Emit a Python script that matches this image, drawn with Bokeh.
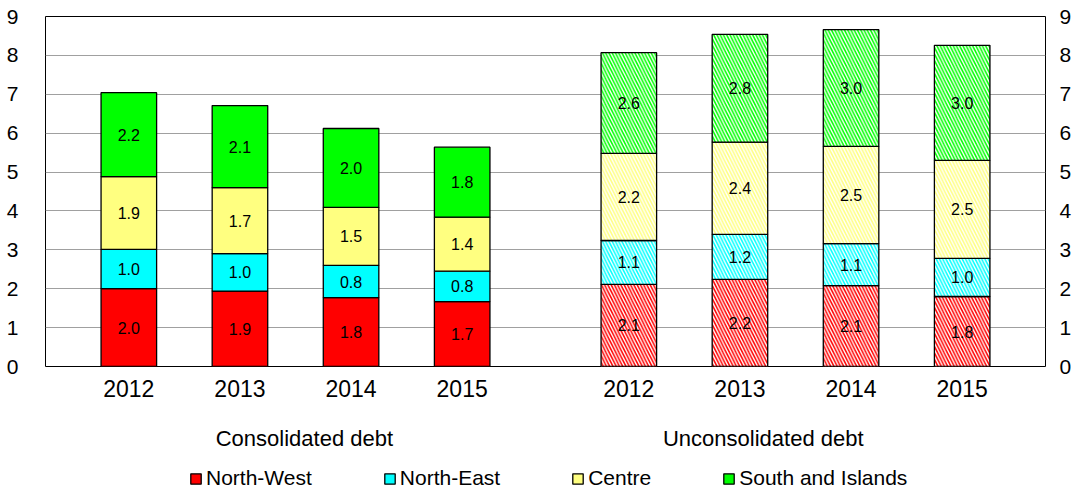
from bokeh.plotting import figure
from bokeh.layouts import column
from bokeh.models import (ColumnDataSource, LinearAxis, FixedTicker, Legend, LegendItem)
from bokeh.core.properties import value
from bokeh.embed import file_html
from bokeh.resources import INLINE

# ---- data ----
years = ["2012", "2013", "2014", "2015"]
regions = ["North-West", "North-East", "Centre", "South and Islands"]
colors = ["#FF0000", "#00FFFF", "#FFFF80", "#00FF00"]

cons_nw = [2.00, 1.94, 1.77, 1.67]
cons_ne = [1.01, 0.96, 0.83, 0.78]
cons_ce = [1.87, 1.70, 1.49, 1.39]
cons_so = [2.16, 2.11, 2.03, 1.80]

unc_nw = [2.11, 2.24, 2.08, 1.80]
unc_ne = [1.13, 1.16, 1.08, 0.98]
unc_ce = [2.24, 2.37, 2.50, 2.52]
unc_so = [2.59, 2.77, 3.00, 2.96]

group_names = ["Consolidated debt", "Unconsolidated debt"]
group_x = [2.58, 6.71]
cons_x = [1, 2, 3, 4]
unc_x = [5.5, 6.5, 7.5, 8.5]
y_ticks = [0, 1, 2, 3, 4, 5, 6, 7, 8, 9]

FONT = "Liberation Sans"
keys = ["nw", "ne", "ce", "so"]

cons_src = ColumnDataSource(dict(x=cons_x, nw=cons_nw, ne=cons_ne, ce=cons_ce, so=cons_so))
unc_src = ColumnDataSource(dict(x=unc_x, nw=unc_nw, ne=unc_ne, ce=unc_ce, so=unc_so))

p = figure(frame_width=1000, frame_height=350, x_range=(0.25, 9.25), y_range=(0, 9),
           output_backend="svg", toolbar_location=None,
           min_border_left=45, min_border_right=22, min_border_top=16, min_border_bottom=80)
p.outline_line_color = "black"
p.outline_line_width = 1

r_cons = p.vbar_stack(keys, x="x", width=0.5, source=cons_src, fill_color=colors,
                      line_color="black", line_width=1.3)
r_unc = p.vbar_stack(keys, x="x", width=0.5, source=unc_src, fill_color=colors,
                     line_color="black", line_width=1.3, hatch_pattern="\\",
                     hatch_color="white", hatch_weight=1.4, hatch_scale=6.5)

# segment labels
def seg_labels(xs, series):
    lx, ly, lt = [], [], []
    for i, x in enumerate(xs):
        base = 0.0
        for s in series:
            v = s[i]
            lx.append(x)
            ly.append(base + v / 2)
            lt.append("%.1f" % v)
            base += v
    return lx, ly, lt

lx1, ly1, lt1 = seg_labels(cons_x, [cons_nw, cons_ne, cons_ce, cons_so])
lx2, ly2, lt2 = seg_labels(unc_x, [unc_nw, unc_ne, unc_ce, unc_so])
lab_src = ColumnDataSource(dict(x=lx1 + lx2, y=ly1 + ly2, t=lt1 + lt2))
p.text(x="x", y="y", text="t", source=lab_src, text_align="center", text_baseline="middle",
       text_font=value(FONT), text_font_size="16px", text_color="black")

# grid
p.xgrid.visible = False
p.ygrid.ticker = FixedTicker(ticks=y_ticks)
p.ygrid.grid_line_color = "#a0a0a0"
p.ygrid.grid_line_width = 1

# axes
def style_y(ax, standoff):
    ax.ticker = FixedTicker(ticks=y_ticks)
    ax.axis_line_color = None
    ax.major_tick_line_color = None
    ax.minor_tick_line_color = None
    ax.major_label_standoff = standoff
    ax.major_label_text_font = FONT
    ax.major_label_text_font_size = "21px"
    ax.major_label_text_color = "black"

style_y(p.yaxis[0], 21)
ry = LinearAxis()
style_y(ry, 8)
p.add_layout(ry, "right")

def style_x(ax, standoff, size):
    ax.axis_line_color = None
    ax.major_tick_line_color = None
    ax.minor_tick_line_color = None
    ax.major_label_standoff = standoff
    ax.major_label_text_font = FONT
    ax.major_label_text_font_size = size
    ax.major_label_text_color = "black"

xa = p.xaxis[0]
xa.ticker = FixedTicker(ticks=cons_x + unc_x)
xa.major_label_overrides = {**{x: y for x, y in zip(cons_x, years)}, **{x: y for x, y in zip(unc_x, years)}}
style_x(xa, 7, "23px")

ga = LinearAxis(ticker=FixedTicker(ticks=group_x),
                major_label_overrides={x: n for x, n in zip(group_x, group_names)})
style_x(ga, 20, "22px")
p.add_layout(ga, "below")

# legend strip below the chart (legend keys reuse the series colours; glyphs have zero size)
lf = figure(width=1067, height=38, x_range=(0, 1), y_range=(0, 1),
            output_backend="svg", toolbar_location=None,
            x_axis_location=None, y_axis_location=None, min_border=0)
lf.grid.visible = False
lf.outline_line_color = None
lrs = [lf.vbar(x=[0.5], top=[0.5], bottom=[0.5], width=0, fill_color=c,
               line_color="black", line_width=1.3) for c in colors]
legend = Legend(items=[LegendItem(label=r, renderers=[rr]) for r, rr in zip(regions, lrs)],
                orientation="horizontal", location=(144, 1),
                glyph_width=13, glyph_height=13, label_standoff=4, spacing=71,
                padding=0, margin=0, border_line_color=None, background_fill_alpha=0,
                label_text_font=FONT, label_text_font_size="21px", label_text_color="black")
lf.add_layout(legend)

layout = column(p, lf, spacing=0)
open("out.html", "w").write(file_html(layout, INLINE))
